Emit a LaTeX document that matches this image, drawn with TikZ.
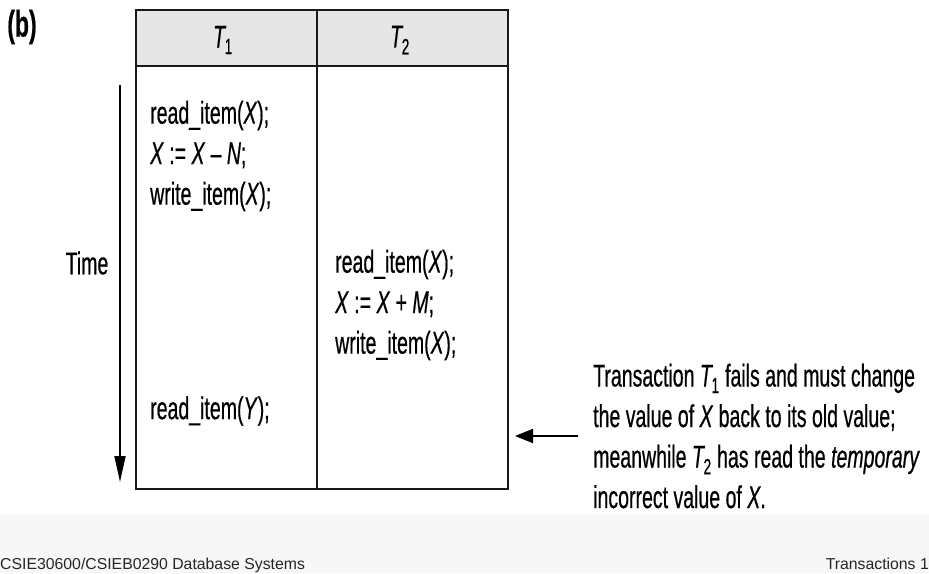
\documentclass[tikz,border=0pt]{standalone}
\usepackage{fontspec}
\setmainfont{Liberation Sans}[FakeStretch=0.62, FakeBold=0.5]
\newfontfamily\footfont{Liberation Sans}
\usetikzlibrary{arrows.meta}
\definecolor{headgray}{RGB}{230,230,230}
\definecolor{bandgray}{RGB}{247,247,247}
\newcommand\tsub[1]{\textsubscript{\kern-1.5pt #1}}

\begin{document}
\begin{tikzpicture}[x=1pt,y=-1pt]
    \tikzstyle{txt}=[inner sep=0pt, font=\fontsize{31.5}{40.5}\selectfont]
    \tikzstyle{block}=[txt, anchor=west, align=left]
    \tikzstyle{grid}=[line width=1.8pt, black!90]
    \tikzstyle{foot}=[inner sep=0pt, font=\footfont\fontsize{15.8}{18}\selectfont, black!85]
    \useasboundingbox (0,0) rectangle (929,573);
    \fill[bandgray] (0,515) rectangle (929,573);
    % schedule table
    \filldraw[grid, fill=headgray] (136,10) rectangle (508,66);
    \draw[grid] (136,66) rectangle (508,489);
    \draw[grid] (317,10) -- (317,489);
    \node[txt, font=\fontsize{37}{40}\selectfont] (b) at (22,27) {\bfseries (b)};
    \node[txt] (t1) at (223,40) {\textit{T}\tsub{1}};
    \node[txt] (t2) at (400,40) {\textit{T}\tsub{2}};
    \node[block] (t1ops) at (150,156) {read\_item(\textit{X});\\
                                       \textit{X} := \textit{X} – \textit{N};\\
                                       write\_item(\textit{X});};
    \node[block] (t1read) at (150,411) {read\_item(\textit{Y});};
    \node[block] (t2ops) at (335,305) {read\_item(\textit{X});\\
                                       \textit{X} := \textit{X} + \textit{M};\\
                                       write\_item(\textit{X});};
    % time axis
    \node[txt] (time) at (87,263) {Time};
    \coordinate (tstart) at (120,85);
    \coordinate (tend) at (120,482);
    \draw[line width=1.8pt, -{Triangle[length=26pt,width=11pt]}] (tstart) -- (tend);
    % note on the failure
    \node[block] (note) at (593,436) {Transaction \textit{T}\tsub{1} fails and must change\\
                                      the value of \textit{X} back to its old value;\\
                                      meanwhile \textit{T}\tsub{2} has read the \textit{temporary}\\
                                      incorrect value of \textit{X}.};
    \coordinate (tip) at (515,434);
    \draw[line width=1.8pt, -{Triangle[length=18pt,width=14pt]}, shorten <=15pt]
        (note.west) -- (note.west -| tip);
    % footer
    \node[foot, anchor=base west] (course) at (0,569) {CSIE30600/CSIEB0290 Database Systems};
    \node[foot, anchor=base east] (slide) at (929,569) {Transactions 1};

\end{tikzpicture}
\end{document}
